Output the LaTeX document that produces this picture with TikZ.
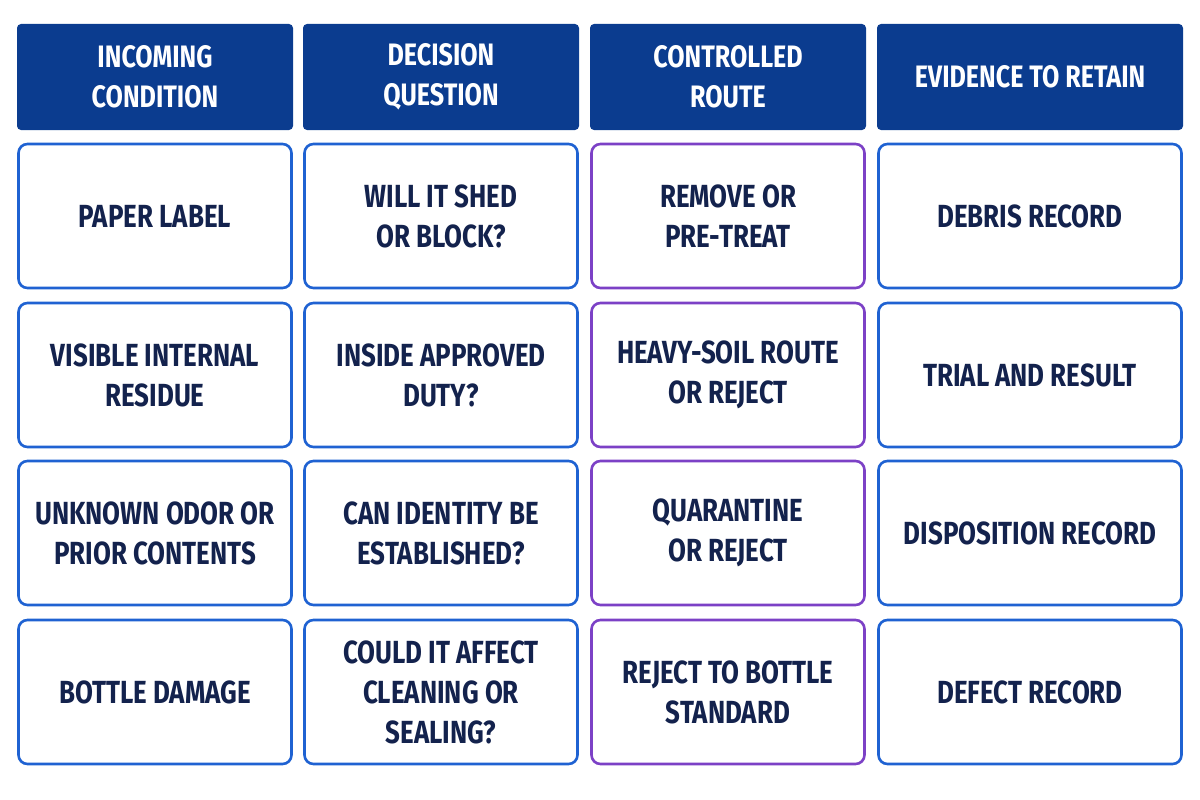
\documentclass[tikz,border=0pt]{standalone}
\usepackage{fontspec}
\setmainfont{Fira Sans}[FakeStretch=0.81]
\definecolor{hdr}{HTML}{0B3C8F}
\definecolor{rim}{HTML}{1F62D2}
\definecolor{vio}{HTML}{7C41C6}
\definecolor{ink}{HTML}{13224D}
\begin{document}
\begin{tikzpicture}[x=1pt,y=-1pt]
			\tikzset{entete/.style={rectangle, rounded corners=4pt, fill=hdr, text=white, font=\fontsize{31}{40}\selectfont\bfseries, align=center, minimum height=106pt, anchor=center},
			case/.style={rectangle, rounded corners=9pt, draw=rim, line width=2.6pt, fill=white, text=ink, font=\fontsize{32}{40}\selectfont\bfseries, align=center, minimum width=273pt, minimum height=144pt},
			route/.style={case, draw=vio}};

			\useasboundingbox (0,0) rectangle (1200,800);

			\node[entete, minimum width=276pt] (h1) at ( 155, 77) {INCOMING\\CONDITION};
			\node[entete, minimum width=276pt] (h2) at ( 441, 77) {DECISION\\QUESTION};
			\node[entete, minimum width=276pt] (h3) at ( 728, 77) {CONTROLLED\\ROUTE};
			\node[entete, minimum width=306pt] (h4) at (1030, 77) {EVIDENCE TO RETAIN};

			\node[case] (c11) at ( 155, 216) {PAPER LABEL};
			\node[case] (c12) at ( 441, 216) {WILL IT SHED\\OR BLOCK?};
			\node[route] (c13) at ( 728, 216) {REMOVE OR\\PRE-TREAT};
			\node[case, minimum width=303pt] (c14) at (1030, 216) {DEBRIS RECORD};

			\node[case] (c21) at ( 155, 375) {VISIBLE INTERNAL\\RESIDUE};
			\node[case] (c22) at ( 441, 375) {INSIDE APPROVED\\DUTY?};
			\node[route] (c23) at ( 728, 375) {HEAVY-SOIL ROUTE\\OR REJECT};
			\node[case, minimum width=303pt] (c24) at (1030, 375) {TRIAL AND RESULT};

			\node[case] (c31) at ( 155, 533) {UNKNOWN ODOR OR\\PRIOR CONTENTS};
			\node[case] (c32) at ( 441, 533) {CAN IDENTITY BE\\ESTABLISHED?};
			\node[route] (c33) at ( 728, 533) {QUARANTINE\\OR REJECT};
			\node[case, minimum width=303pt] (c34) at (1030, 533) {DISPOSITION RECORD};

			\node[case] (c41) at ( 155, 692) {BOTTLE DAMAGE};
			\node[case] (c42) at ( 441, 692) {COULD IT AFFECT\\CLEANING OR\\SEALING?};
			\node[route] (c43) at ( 728, 692) {REJECT TO BOTTLE\\STANDARD};
			\node[case, minimum width=303pt] (c44) at (1030, 692) {DEFECT RECORD};

		\end{tikzpicture}
\end{document}
